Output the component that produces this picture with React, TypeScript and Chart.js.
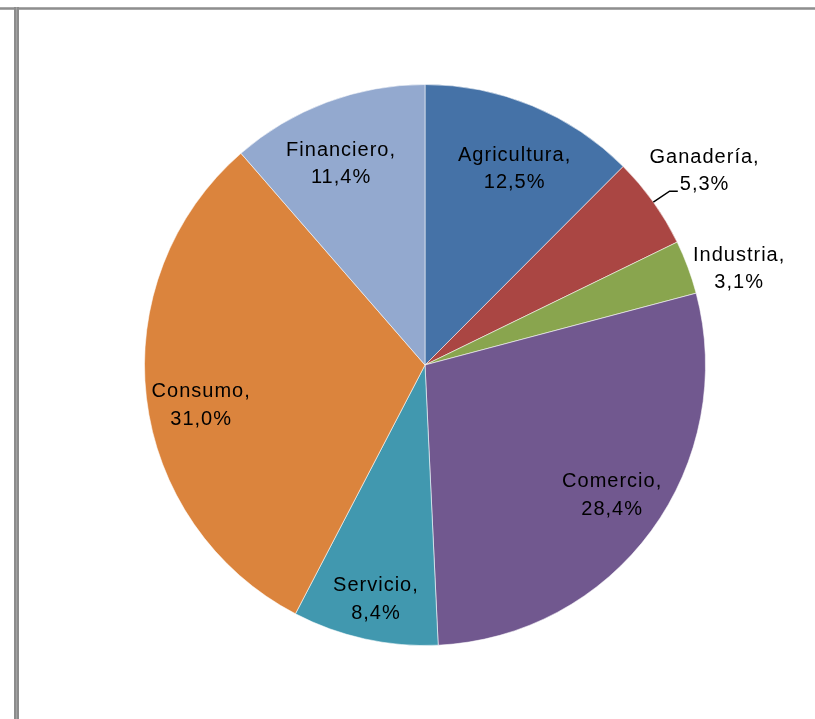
import React, { useEffect, useRef } from "react";
import { Chart, registerables } from "chart.js";

Chart.register(...registerables);

const categories = ["Agricultura", "Ganadería", "Industria", "Comercio", "Servicio", "Consumo", "Financiero"];
const shares = [12.5, 5.3, 3.1, 28.4, 8.4, 31.0, 11.4];
const sliceColors = ["#4572A7", "#AA4643", "#89A54E", "#71588F", "#4198AF", "#DB843D", "#93A9CF"];

// label placement (relative to slice radius / mid-angle), styling only
const labelRadius = [0.774, 1.217, 1.173, 0.81, 0.848, 0.81, 0.782];
const labelAngleShift = [1.9, 0.5, 3.1, -1.7, -0.5, -3.1, -2.0];
const labelLeader = [false, true, false, false, false, false, false];

const FONT = "20px 'Liberation Sans', Arial, sans-serif";

const framePlugin = {
  id: "frame",
  beforeDraw(chart: any) {
    const ctx = chart.ctx;
    ctx.save();
    ctx.fillStyle = "#ffffff";
    ctx.fillRect(0, 0, chart.width, chart.height);
    // top rule
    ctx.fillStyle = "#a8a8a8";
    ctx.fillRect(0, 7, chart.width, 3);
    ctx.fillStyle = "#8e8e8e";
    ctx.fillRect(0, 8, chart.width, 1);
    // left rule
    ctx.fillStyle = "#8c8c8c";
    ctx.fillRect(14, 7, 5, chart.height - 7);
    ctx.fillStyle = "#a2a2a2";
    ctx.fillRect(16, 7, 1, chart.height - 7);
    ctx.restore();
  },
};

const labelPlugin = {
  id: "sliceLabels",
  afterDatasetsDraw(chart: any) {
    const ctx = chart.ctx;
    const meta = chart.getDatasetMeta(0);
    const values = chart.data.datasets[0].data as number[];
    ctx.save();
    ctx.font = FONT;
    (ctx as any).letterSpacing = "1px";
    ctx.fillStyle = "#000000";
    ctx.textAlign = "center";
    ctx.textBaseline = "alphabetic";
    meta.data.forEach((arc: any, i: number) => {
      const p = arc.getProps(["x", "y", "startAngle", "endAngle", "outerRadius"], true);
      const mid = (p.startAngle + p.endAngle) / 2;
      const ang = mid + (labelAngleShift[i] * Math.PI) / 180;
      const r = p.outerRadius * labelRadius[i];
      const cx = p.x + Math.cos(ang) * r;
      const cy = p.y + Math.sin(ang) * r;
      const l1 = chart.data.labels[i] + ",";
      const l2 = values[i].toFixed(1).replace(".", ",") + "%";
      ctx.fillText(l1, cx, cy - 6.5);
      ctx.fillText(l2, cx, cy + 21);
      if (labelLeader[i]) {
        const w2 = ctx.measureText(l2).width;
        const sx = p.x + Math.cos(mid) * p.outerRadius;
        const sy = p.y + Math.sin(mid) * p.outerRadius;
        const ex = p.x + Math.cos(mid) * (p.outerRadius + 20);
        const ty = cy + 22;
        ctx.beginPath();
        ctx.strokeStyle = "#000000";
        ctx.lineWidth = 1.5;
        ctx.moveTo(sx, sy);
        ctx.lineTo(ex, ty);
        ctx.lineTo(cx - w2 / 2 - 2, ty);
        ctx.stroke();
      }
    });
    ctx.restore();
  },
};

export default function App() {
  const ref = useRef<HTMLCanvasElement | null>(null);
  useEffect(() => {
    if (!ref.current) return;
    const chart = new Chart(ref.current, {
      type: "pie",
      data: {
        labels: categories,
        datasets: [
          {
            data: shares,
            backgroundColor: sliceColors,
            borderColor: "rgba(255,255,255,0.55)",
            borderWidth: 1,
          },
        ],
      },
      options: {
        responsive: false,
        animation: false,
        devicePixelRatio: 1,
        layout: { padding: { left: 144, right: 109, top: 84, bottom: 73 } },
        plugins: {
          legend: { display: false },
          tooltip: { enabled: false },
        },
      },
      plugins: [framePlugin, labelPlugin],
    });
    return () => chart.destroy();
  }, []);
  return (
    <div style={{ position: "absolute", left: 0, top: 0, width: 815, height: 719, background: "#fff" }}>
      <canvas ref={ref} width={815} height={719} style={{ display: "block" }} />
    </div>
  );
}
